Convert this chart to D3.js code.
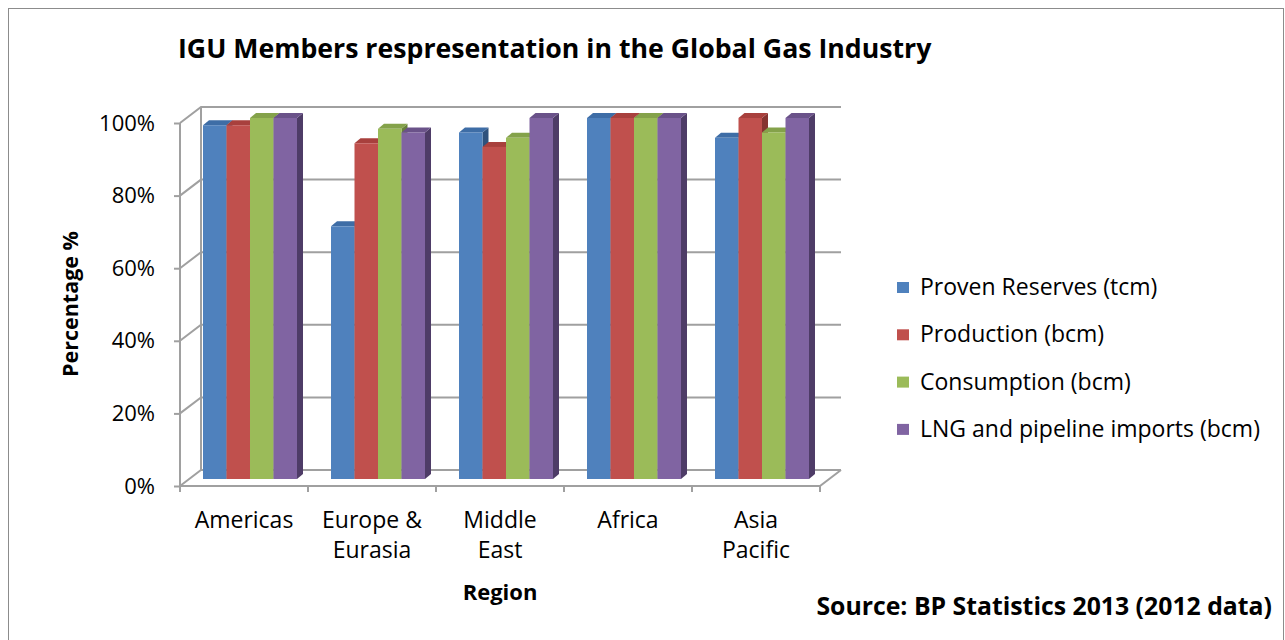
<!DOCTYPE html>
<meta charset="utf-8">
<style>
body { margin: 0; background: #fff; }
text { font-family: "Open Sans", sans-serif; fill: #000; }
.bold { font-weight: bold; }
</style>
<svg width="1285" height="640"></svg>
<script src="https://d3js.org/d3.v7.min.js"></script>
<script>

var categories = ["Americas", "Europe & Eurasia", "Middle East", "Africa", "Asia Pacific"];
var categoryLines = [["Americas"], ["Europe &", "Eurasia"], ["Middle", "East"], ["Africa"], ["Asia", "Pacific"]];
var seriesNames = ["Proven Reserves (tcm)", "Production (bcm)", "Consumption (bcm)", "LNG and pipeline imports (bcm)"];
var reserves    = [98, 70, 96, 100, 94.5];
var production  = [98, 93, 92, 100, 100];
var consumption = [100, 97, 94.5, 100, 96];
var imports     = [100, 96, 100, 100, 100];
var yTicks = [0, 0.2, 0.4, 0.6, 0.8, 1];

var seriesValues = [reserves, production, consumption, imports];
var front = ["#4F81BD", "#C0504D", "#9BBB59", "#8064A2"],
    top_  = ["#3E6DA6", "#A8403D", "#84A24A", "#6A5289"],
    side  = ["#2F527D", "#863431", "#67803A", "#4E3C67"];

var svg = d3.select("svg");

// frame
svg.append("rect")
    .attr("x", 8.5).attr("y", 8.5)
    .attr("width", 1275).attr("height", 640)
    .attr("fill", "none").attr("stroke", "#8c8c8c");

var left = 180, right = 820, bottom = 486, topY = 123;
var DX = 21, DY = -16;     // depth of the walls
var BX = 6, TX = 6, TY = -5; // bar placement / bar depth

var x0 = d3.scaleBand().domain(categories).range([left, right]);
var x1 = d3.scaleBand().domain(seriesNames).range([17, x0.bandwidth() - 17]);
var y = d3.scaleLinear().domain([0, 1]).range([bottom, topY]);
var yb = d3.scaleLinear().domain([0, 100]).range([479, 118]);

var grid = svg.append("g")
    .attr("stroke", "#a0a0a0").attr("stroke-width", 2).attr("fill", "none");

// back wall gridlines + left wall diagonals
yTicks.forEach(function(t) {
  grid.append("path").attr("d",
    "M" + left + "," + y(t) + "L" + (left + DX) + "," + (y(t) + DY) +
    "L" + (right + DX) + "," + (y(t) + DY));
});
// left wall verticals
grid.append("path").attr("d", "M" + left + "," + y(0) + "L" + left + "," + y(1));
grid.append("path").attr("d", "M" + (left + DX) + "," + (y(0) + DY) + "L" + (left + DX) + "," + (y(1) + DY));
// floor
grid.append("path").attr("d",
  "M" + left + "," + bottom + "L" + right + "," + bottom + "L" + (right + DX) + "," + (bottom + DY));

// y axis ticks
var yAxis = d3.axisLeft(y).tickValues(yTicks).tickFormat(d3.format(".0%"))
    .tickSize(6).tickPadding(19);
var ya = svg.append("g").attr("transform", "translate(" + left + ",0)").call(yAxis);
ya.select(".domain").remove();
ya.selectAll("line").attr("stroke", "#a0a0a0").attr("stroke-width", 2);
ya.selectAll("text").attr("font-family", "Open Sans").attr("font-size", 22).attr("fill", "#000");

// x axis ticks at band edges
var edges = categories.map(function(c) { return x0(c); }).concat([right]);
svg.append("g").selectAll("line").data(edges).join("line")
    .attr("x1", function(d) { return d; }).attr("x2", function(d) { return d; })
    .attr("y1", bottom).attr("y2", bottom + 6)
    .attr("stroke", "#a0a0a0").attr("stroke-width", 2);

// bars
var barsG = svg.append("g");
categories.forEach(function(c, ci) {
  seriesNames.forEach(function(s, si) {
    var v = seriesValues[si][ci];
    var xa = x0(c) + x1(s) + BX, xb = xa + x1.bandwidth();
    var yt = yb(v), ybot = yb(0);
    var g = barsG.append("g");
    g.append("path").attr("fill", side[si])
      .attr("d", "M" + xb + "," + yt + "L" + (xb + TX) + "," + (yt + TY) +
        "L" + (xb + TX) + "," + (ybot + TY) + "L" + xb + "," + ybot + "Z");
    g.append("path").attr("fill", top_[si])
      .attr("d", "M" + xa + "," + yt + "L" + xb + "," + yt +
        "L" + (xb + TX) + "," + (yt + TY) + "L" + (xa + TX) + "," + (yt + TY) + "Z");
    g.append("rect").attr("fill", front[si])
      .attr("x", xa).attr("y", yt).attr("width", xb - xa).attr("height", ybot - yt);
  });
});

// category labels
var cl = svg.append("g").selectAll("text").data(categories).join("text")
    .attr("text-anchor", "middle")
    .attr("font-size", 23)
    .attr("x", function(d) { return x0(d) + x0.bandwidth() / 2; })
    .attr("y", 528);
cl.each(function(d, i) {
  d3.select(this).selectAll("tspan").data(categoryLines[i]).join("tspan")
    .attr("x", x0(d) + x0.bandwidth() / 2)
    .attr("dy", function(_, j) { return j ? 30 : 0; })
    .text(function(t) { return t; });
});

// title and axis titles
svg.append("text").attr("class", "bold")
    .attr("x", 178).attr("y", 58).attr("font-size", 26.7)
    .text("IGU Members respresentation in the Global Gas Industry");

svg.append("text").attr("class", "bold")
    .attr("transform", "translate(78,304) rotate(-90)")
    .attr("text-anchor", "middle").attr("font-size", 21.5)
    .text("Percentage %");

svg.append("text").attr("class", "bold")
    .attr("x", 500).attr("y", 600).attr("text-anchor", "middle").attr("font-size", 22)
    .text("Region");

svg.append("text").attr("class", "bold")
    .attr("x", 1272).attr("y", 615).attr("text-anchor", "end").attr("font-size", 24.8)
    .text("Source: BP Statistics 2013 (2012 data)");

// legend
var lg = svg.append("g").selectAll("g").data(seriesNames).join("g")
    .attr("transform", function(d, i) { return "translate(897," + (287 + i * 47.3) + ")"; });
lg.append("rect").attr("x", 0).attr("y", -5).attr("width", 12).attr("height", 11)
    .attr("fill", function(d, i) { return front[i]; });
lg.append("text").attr("x", 23).attr("y", 8).attr("font-size", 23)
    .text(function(d) { return d; });

</script>
